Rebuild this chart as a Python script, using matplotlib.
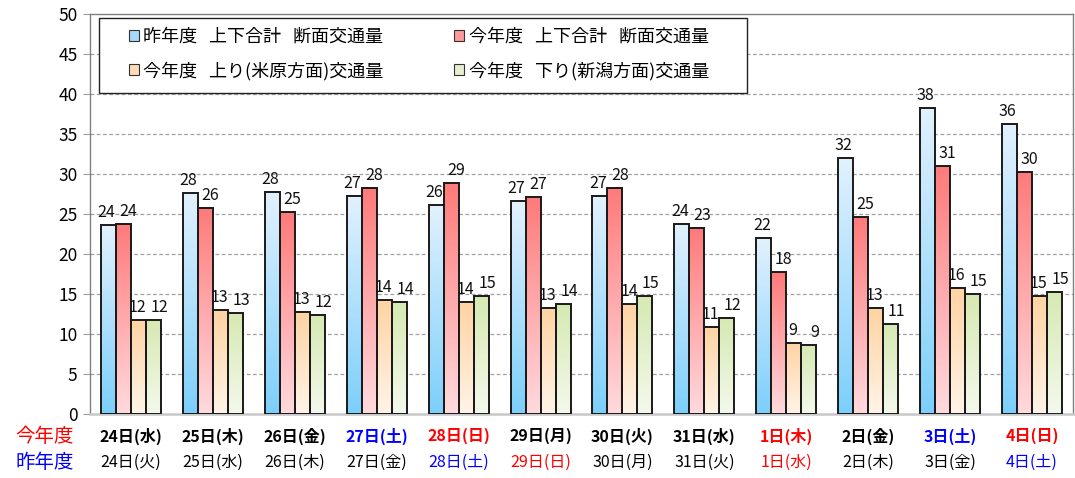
import matplotlib
matplotlib.use("Agg")
import matplotlib.pyplot as plt
import numpy as np
from matplotlib.patches import Patch, Rectangle
from matplotlib.colors import LinearSegmentedColormap

plt.rcParams['font.family'] = ['Noto Sans CJK JP', 'DejaVu Sans']

# ---- data ----
this_year_days = ["24日(水)", "25日(木)", "26日(金)", "27日(土)", "28日(日)", "29日(月)",
                  "30日(火)", "31日(水)", "1日(木)", "2日(金)", "3日(土)", "4日(日)"]
last_year_days = ["24日(火)", "25日(水)", "26日(木)", "27日(金)", "28日(土)", "29日(日)",
                  "30日(月)", "31日(火)", "1日(水)", "2日(木)", "3日(金)", "4日(土)"]
this_year_colors = ["black", "black", "black", "#0000ff", "#ff0000", "black",
                    "black", "black", "#ff0000", "black", "#0000ff", "#ff0000"]
last_year_colors = ["black", "black", "black", "black", "#0000ff", "#ff0000",
                    "black", "black", "#ff0000", "black", "black", "#0000ff"]

last_total = [23.6, 27.6, 27.8, 27.3, 26.1, 26.6, 27.3, 23.8, 22.0, 32.0, 38.2, 36.3]
this_total = [23.8, 25.8, 25.2, 28.3, 28.9, 27.1, 28.3, 23.2, 17.7, 24.6, 31.0, 30.2]
this_up    = [11.7, 13.0, 12.8, 14.2, 14.0, 13.2, 13.7, 10.9, 8.9, 13.2, 15.8, 14.7]
this_down  = [11.7, 12.6, 12.4, 14.0, 14.7, 13.7, 14.7, 12.0, 8.6, 11.2, 15.0, 15.3]

series_names = ["昨年度   上下合計   断面交通量", "今年度   上下合計   断面交通量",
                "今年度   上り(米原方面)交通量", "今年度   下り(新潟方面)交通量"]
series_values = [last_total, this_total, this_up, this_down]
# (top colour, bottom colour, legend colour)
series_grad = [("#e2f1fe", "#7ccffb", "#a8daf7"),
               ("#ff7a7a", "#ffdade", "#ff9a9a"),
               ("#ffd3a3", "#fff4e8", "#ffdcb8"),
               ("#d6e9b2", "#f4f9ec", "#e4f0d0")]
label_dx = [-2, 5, -1, 6]   # pixel nudge of value labels per series

fig = plt.figure(figsize=(10.75, 4.78), dpi=100)
ax = fig.add_axes([90/1075, 1-414/478, (1073-90)/1075, (414-14)/478])

n = len(this_year_days)
x = np.arange(n)
bw = 0.183
offsets = (np.arange(4) - 1.5) * bw

for k, (vals, (ctop, cbot, _)) in enumerate(zip(series_values, series_grad)):
    bars = ax.bar(x + offsets[k], vals, width=bw, facecolor='none',
                  edgecolor='#1a1a1a', linewidth=1.4, zorder=4)
    cmap = LinearSegmentedColormap.from_list(f"g{k}", [cbot, ctop])
    grad = np.linspace(0, 1, 256).reshape(-1, 1)
    for b, v in zip(bars, vals):
        x0 = b.get_x()
        w = b.get_width()
        h = b.get_height()
        ax.imshow(grad, extent=[x0, x0 + w, 0, h], origin='lower', aspect='auto',
                  cmap=cmap, zorder=3, interpolation='bilinear')
        ax.annotate(f"{v:.0f}", (x0 + w / 2, h), xytext=(label_dx[k], 4),
                    textcoords='offset pixels', ha='center', va='bottom',
                    fontsize=11.5, color='#111111', zorder=6)

ax.set_xlim(-0.5, n - 0.5)
ax.set_ylim(0, 50)
ax.set_yticks(np.arange(0, 51, 5))
ax.tick_params(axis='y', labelsize=12.5, length=5, color='#999999', pad=4)
ax.set_xticks([])
for yv in range(5, 50, 5):
    ax.axhline(yv, color='#a0a0a0', linestyle=(0, (3, 2)), linewidth=0.9, zorder=1)

for s in ['left', 'top', 'right']:
    ax.spines[s].set_color('#808080')
    ax.spines[s].set_linewidth(1.0)
ax.spines['bottom'].set_color('#c8c8c8')
ax.spines['bottom'].set_linewidth(1.8)

tr = ax.get_xaxis_transform()
for i in range(n):
    ax.text(x[i], -0.055, this_year_days[i], transform=tr, ha='center', va='center',
            fontsize=11.5, fontweight='bold', color=this_year_colors[i])
    ax.text(x[i], -0.122, last_year_days[i], transform=tr, ha='center', va='center',
            fontsize=11.5, color=last_year_colors[i])

fig.text(45/1075, 1-436/478, "今年度", color='#ff0000', fontsize=14,
         ha='center', va='center')
fig.text(45/1075, 1-463/478, "昨年度", color='#0000ff', fontsize=14,
         ha='center', va='center')

# legend box
box = Rectangle((9/983, (414-93)/400), (747-99)/983, (93-18)/400, transform=ax.transAxes,
                facecolor='white', edgecolor='#222222', linewidth=1.0, zorder=9)
ax.add_patch(box)

handles = [Patch(facecolor=g[2], edgecolor='#333333', linewidth=0.8) for g in series_grad]
order = [0, 2, 1, 3]
leg = ax.legend([handles[i] for i in order], [series_names[i] for i in order],
                ncol=2, loc='upper left', bbox_to_anchor=((129-90)/983, (414-28)/400),
                frameon=False, fontsize=13, handlelength=0.55, handleheight=0.55,
                handletextpad=0.25, columnspacing=3.9, borderpad=0, labelspacing=0.85,
                borderaxespad=0)
leg.set_zorder(10)

fig.savefig("out.png", dpi=100)
